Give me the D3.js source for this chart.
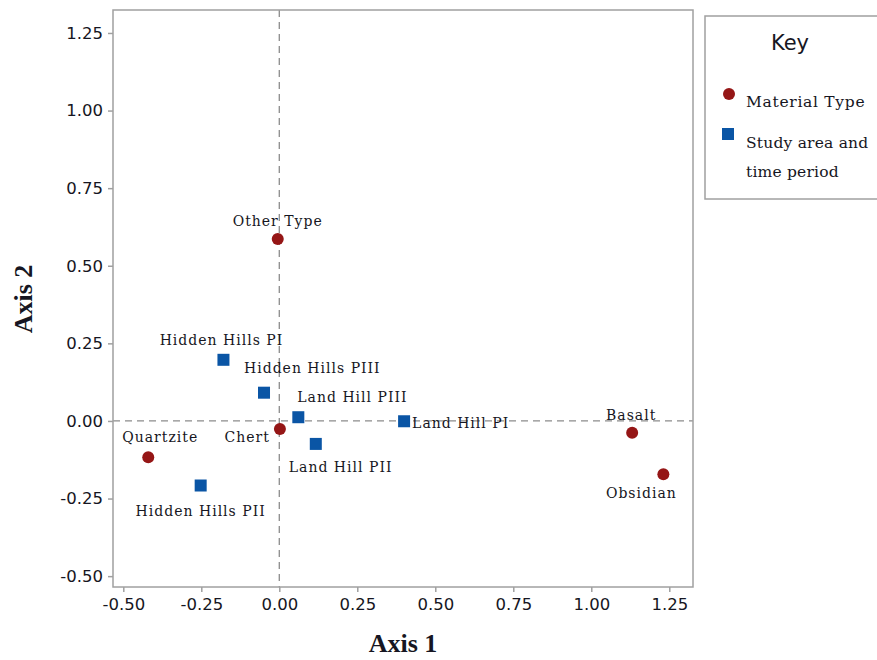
<!DOCTYPE html>
<html>
<head>
<meta charset="utf-8">
<script src="https://cdn.jsdelivr.net/npm/d3@7"></script>
<style>
  body { margin: 0; background: #fff; }
  svg { display: block; }
  text { font-family: "DejaVu Serif", "Liberation Serif", serif; }
</style>
</head>
<body>
<svg id="chart" width="877" height="660"></svg>
<script>
// ---- Data ----
const materialNames = ["Other Type", "Chert", "Quartzite", "Basalt", "Obsidian"];
const materialAxis1 = [-0.005, 0.002, -0.42, 1.131, 1.231];
const materialAxis2 = [0.586, -0.026, -0.117, -0.038, -0.172];

const siteNames = ["Hidden Hills PI", "Hidden Hills PIII", "Land Hill PIII", "Land Hill PII", "Hidden Hills PII", "Land Hill PI"];
const siteAxis1 = [-0.179, -0.049, 0.061, 0.117, -0.252, 0.40];
const siteAxis2 = [0.197, 0.091, 0.012, -0.074, -0.208, -0.001];

const xTicks = [-0.50, -0.25, 0.00, 0.25, 0.50, 0.75, 1.00, 1.25];
const yTicks = [-0.50, -0.25, 0.00, 0.25, 0.50, 0.75, 1.00, 1.25];

const legendTitle = "Key";
const legendLabels = ["Material Type", ["Study area and", "time period"]];

// ---- Layout ----
const svg = d3.select("#chart");
const plot = { left: 113, top: 10, right: 693, bottom: 587 };

const x = d3.scaleLinear().domain([-0.533, 1.326]).range([plot.left, plot.right]);
const y = d3.scaleLinear().domain([-0.535, 1.324]).range([plot.bottom, plot.top]);

const frameColor = "#a0a0a0";
const textColor = "#161622";
const red = "#951616";
const blue = "#0a55a5";

// label placement relative to each mark: [dx, dy(baseline), anchor]
const labelPlace = {
  "Other Type": [0, -13, "middle"],
  "Chert": [-10, 13, "end"],
  "Quartzite": [12, -15, "middle"],
  "Basalt": [-1, -13, "middle"],
  "Obsidian": [-22, 24, "middle"],
  "Hidden Hills PI": [-2, -15, "middle"],
  "Hidden Hills PIII": [-20, -20, "start"],
  "Land Hill PIII": [-1, -15, "start"],
  "Land Hill PII": [-27, 28, "start"],
  "Hidden Hills PII": [0, 30, "middle"],
  "Land Hill PI": [8, 7, "start"]
};

// Reference lines
svg.append("line")
  .attr("x1", x(0)).attr("x2", x(0))
  .attr("y1", plot.top).attr("y2", plot.bottom)
  .attr("stroke", "#8c8c8c").attr("stroke-width", 1.3)
  .attr("stroke-dasharray", "7,5");
svg.append("line")
  .attr("x1", plot.left).attr("x2", plot.right)
  .attr("y1", y(0)).attr("y2", y(0))
  .attr("stroke", "#8c8c8c").attr("stroke-width", 1.3)
  .attr("stroke-dasharray", "7,5");

// Frame
svg.append("rect")
  .attr("x", plot.left).attr("y", plot.top)
  .attr("width", plot.right - plot.left).attr("height", plot.bottom - plot.top)
  .attr("fill", "none").attr("stroke", frameColor).attr("stroke-width", 1.5);

// Axes
const fmt = v => d3.format(".2f")(v).replace("\u2212", "-");
const xAxis = svg.append("g")
  .attr("transform", `translate(0,${plot.bottom})`)
  .call(d3.axisBottom(x).tickValues(xTicks).tickFormat(fmt).tickSize(5).tickSizeOuter(0));
const yAxis = svg.append("g")
  .attr("transform", `translate(${plot.left},0)`)
  .call(d3.axisLeft(y).tickValues(yTicks).tickFormat(fmt).tickSize(5).tickSizeOuter(0));

[xAxis, yAxis].forEach(g => {
  g.select(".domain").remove();
  g.selectAll(".tick line").attr("stroke", frameColor).attr("stroke-width", 1.5);
  g.selectAll(".tick text")
    .attr("fill", textColor)
    .style("font-family", "'DejaVu Sans', sans-serif")
    .style("font-size", "16.5px");
});
xAxis.selectAll(".tick text").attr("dy", "0.71em").attr("y", 11);
yAxis.selectAll(".tick text").attr("x", -10);

// Axis titles
svg.append("text")
  .attr("x", 403).attr("y", 652)
  .attr("text-anchor", "middle")
  .attr("fill", textColor)
  .style("font-family", "'Liberation Serif', serif")
  .style("font-size", "26px").style("font-weight", "bold")
  .text("Axis 1");
svg.append("text")
  .attr("transform", `translate(32,299) rotate(-90)`)
  .attr("text-anchor", "middle")
  .attr("fill", textColor)
  .style("font-family", "'Liberation Serif', serif")
  .style("font-size", "26px").style("font-weight", "bold")
  .text("Axis 2");

// Points
const materials = materialNames.map((n, i) => ({ name: n, a1: materialAxis1[i], a2: materialAxis2[i] }));
const sites = siteNames.map((n, i) => ({ name: n, a1: siteAxis1[i], a2: siteAxis2[i] }));

svg.append("g").selectAll("circle").data(materials).join("circle")
  .attr("cx", d => x(d.a1)).attr("cy", d => y(d.a2))
  .attr("r", 6).attr("fill", red);

const sq = 12;
svg.append("g").selectAll("rect").data(sites).join("rect")
  .attr("x", d => x(d.a1) - sq / 2).attr("y", d => y(d.a2) - sq / 2)
  .attr("width", sq).attr("height", sq).attr("fill", blue);

const allPts = materials.concat(sites);
svg.append("g").selectAll("text").data(allPts).join("text")
  .attr("x", d => x(d.a1) + labelPlace[d.name][0])
  .attr("y", d => y(d.a2) + labelPlace[d.name][1])
  .attr("text-anchor", d => labelPlace[d.name][2])
  .attr("fill", textColor)
  .style("font-size", "14px")
  .style("letter-spacing", "1px")
  .text(d => d.name);

// Legend
const lg = svg.append("g");
lg.append("rect")
  .attr("x", 705).attr("y", 16).attr("width", 180).attr("height", 183)
  .attr("fill", "#fff").attr("stroke", frameColor).attr("stroke-width", 1.5);
lg.append("text").attr("x", 790).attr("y", 50).attr("text-anchor", "middle")
  .attr("fill", textColor)
  .style("font-family", "'DejaVu Sans', sans-serif").style("font-size", "21px")
  .text(legendTitle);
lg.append("circle").attr("cx", 729).attr("cy", 94).attr("r", 6).attr("fill", red);
lg.append("text").attr("x", 746).attr("y", 107).attr("fill", textColor)
  .style("font-size", "15.5px").style("letter-spacing", "0.7px").text(legendLabels[0]);
lg.append("rect").attr("x", 722).attr("y", 128).attr("width", 12).attr("height", 12).attr("fill", blue);
lg.append("text").attr("x", 746).attr("y", 148).attr("fill", textColor)
  .style("font-size", "15.5px").style("letter-spacing", "0.2px").text(legendLabels[1][0]);
lg.append("text").attr("x", 746).attr("y", 177).attr("fill", textColor)
  .style("font-size", "15.5px").style("letter-spacing", "0.2px").text(legendLabels[1][1]);
</script>
</body>
</html>
